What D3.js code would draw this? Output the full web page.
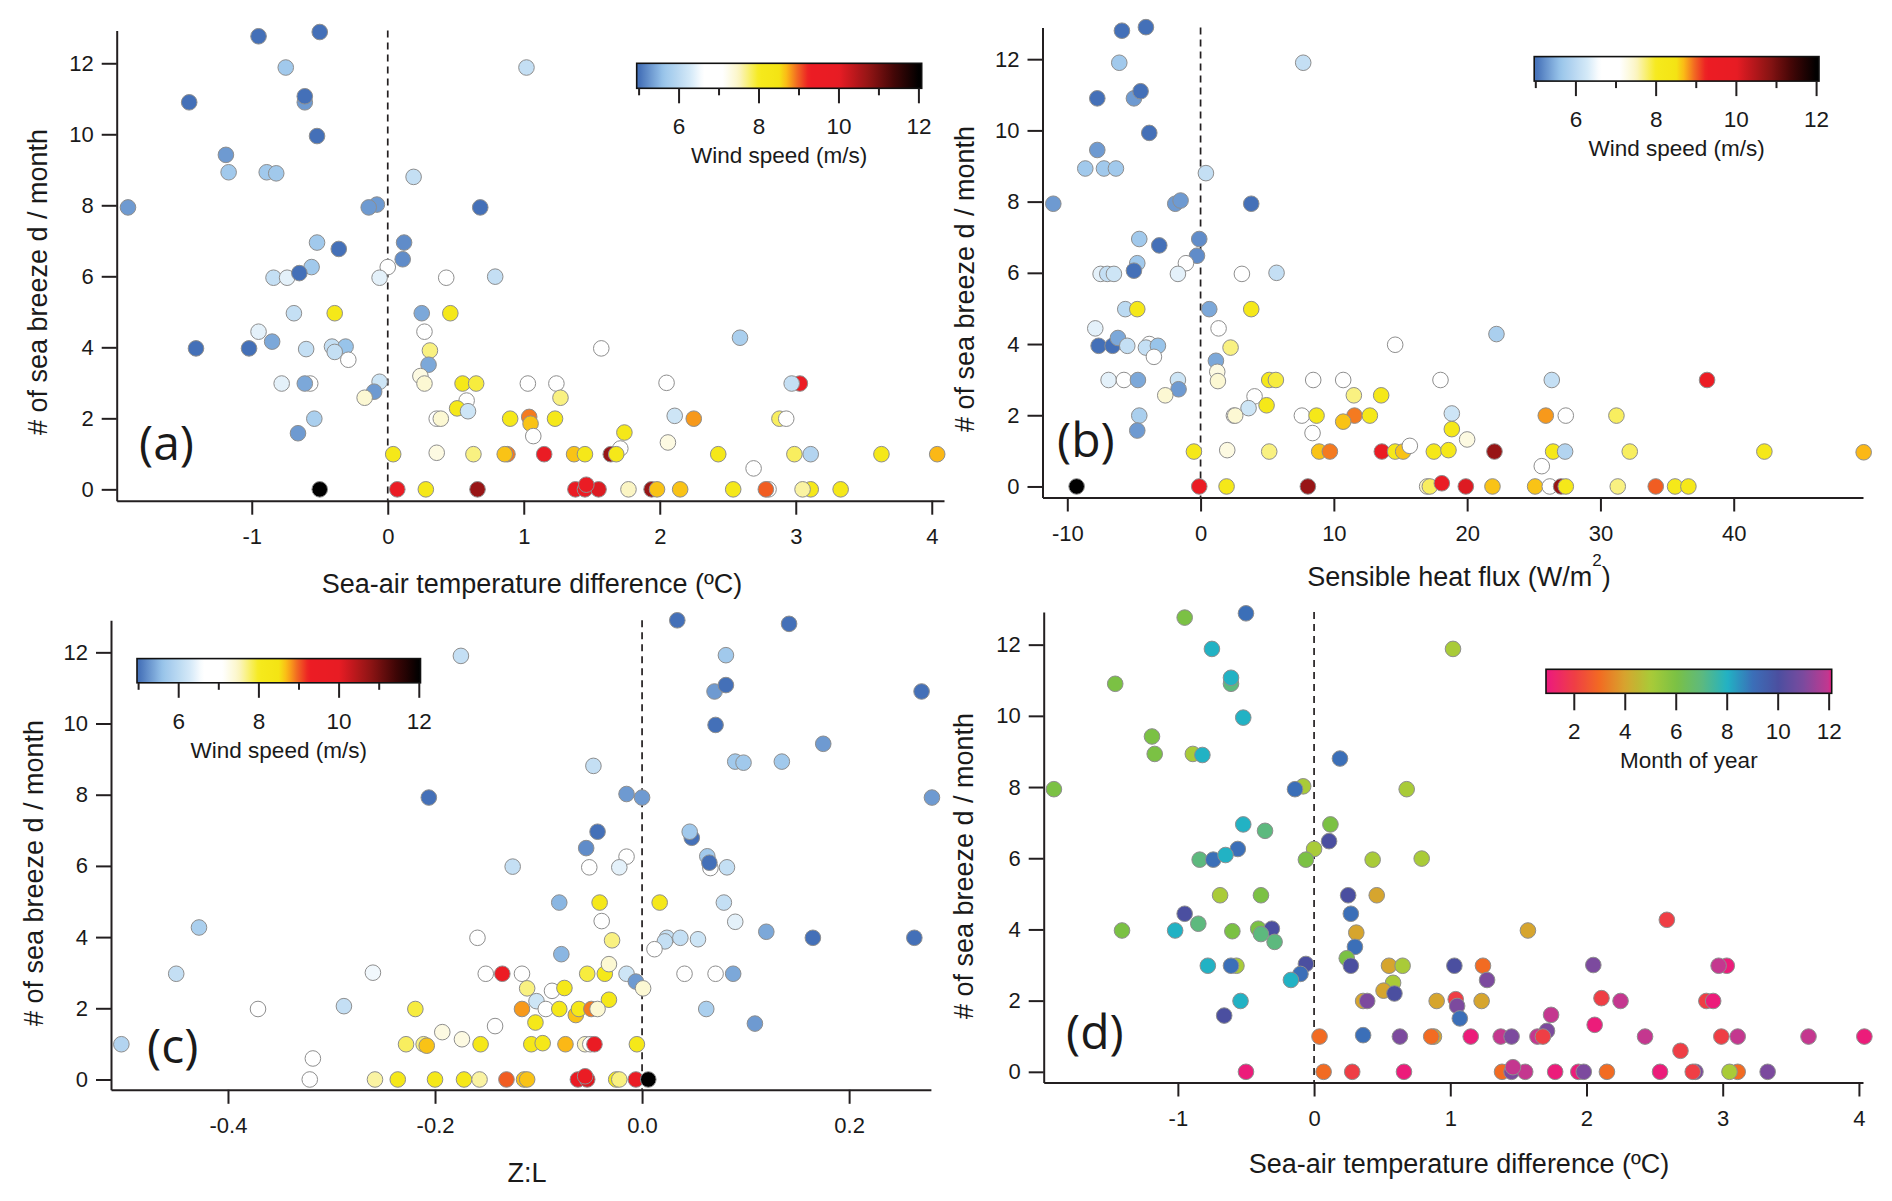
<!DOCTYPE html>
<html>
<head>
<meta charset="utf-8">
<title>Sea breeze days vs. surface conditions</title>
<script src="https://cdn.jsdelivr.net/npm/d3@7"></script>
<style>
  body { margin: 0; background: #fff; }
  svg text { font-family: "Liberation Sans", Arial, sans-serif; fill: #1a1a1a; }
</style>
</head>
<body>
<div id="chart"></div>
<script>
// ---------- data ----------
// panels (a) and (d): [sea-air temperature difference (ºC), sea breeze days / month, wind speed (m/s), month]
var tempPoints = [
  [-0.95,12.76,5.0,6],[-0.50,12.88,5.0,9],[-0.75,11.88,5.7,8],[1.02,11.88,6.1,5],[-1.46,10.90,5.0,6],
  [-0.61,10.90,5.3,7],[-0.61,11.07,5.0,8],[-0.52,9.95,5.0,8],[-1.19,9.42,5.3,6],[-1.17,8.93,5.7,6],
  [-0.89,8.93,5.7,5],[-0.82,8.90,5.7,8],[0.19,8.80,6.1,9],[-1.91,7.94,5.3,6],[-0.08,8.02,5.3,5],
  [-0.14,7.94,5.3,9],[0.68,7.94,5.0,5],[-0.52,6.95,5.7,8],[-0.36,6.77,5.0,7],[0.12,6.95,5.2,6],
  [0.11,6.48,5.2,10],[-0.84,5.96,6.1,7],[-0.74,5.96,6.4,9],[-0.56,6.26,5.7,9],[-0.65,6.09,5.0,8],
  [0.00,6.26,6.9,5],[-0.06,5.96,6.4,6],[0.43,5.96,6.9,5],[0.79,5.99,6.1,5],[-0.69,4.96,6.1,5],
  [-0.39,4.96,8.2,6],[0.25,4.96,5.4,10],[0.46,4.96,8.2,4],[-0.95,4.44,6.4,10],[0.27,4.44,6.9,9],
  [2.59,4.27,5.8,2],[-1.41,3.97,5.0,6],[-1.02,3.97,5.0,8],[-0.85,4.16,5.4,7],[-0.60,3.95,6.1,6],
  [-0.41,4.02,6.1,6],[-0.31,4.02,5.6,10],[-0.39,3.87,6.1,7],[-0.29,3.65,6.9,7],[0.31,3.91,7.7,4],
  [1.57,3.97,6.9,4],[0.30,3.51,5.4,9],[-0.78,2.98,6.4,8],[-0.57,2.98,6.9,5],[-0.61,2.98,5.4,9],
  [-0.06,3.03,6.2,10],[-0.10,2.75,5.3,9],[-0.17,2.58,7.4,8],[0.24,3.19,7.3,6],[0.27,2.98,7.4,10],
  [0.55,2.98,8.2,4],[0.65,2.98,7.9,5],[1.03,2.98,6.9,10],[1.24,2.98,6.9,3],[1.27,2.58,7.7,11],
  [0.58,2.50,6.7,5],[0.51,2.28,8.2,4],[0.59,2.20,6.2,10],[2.05,3.00,6.7,11],[3.03,2.98,9.3,1],
  [2.97,2.98,6.1,12],[-0.54,1.99,5.8,8],[-0.66,1.58,5.3,10],[0.36,1.99,6.9,4],[0.39,1.99,7.4,11],
  [0.90,1.99,8.2,4],[1.04,2.04,8.9,2],[1.05,1.85,8.65,11],[1.07,1.50,6.6,9],[1.23,1.99,8.2,4],
  [2.11,2.07,6.2,2],[2.25,1.99,8.8,12],[1.74,1.60,8.2,12],[1.71,1.15,6.9,11],[2.06,1.32,7.3,1],
  [2.88,1.99,7.8,2],[2.93,1.99,6.7,1],[0.04,0.99,8.2,3],[0.36,1.03,7.3,9],[0.63,0.99,7.7,11],
  [0.88,0.99,8.9,4],[0.86,0.99,8.65,3],[1.15,0.99,9.6,1],[1.37,0.99,8.65,12],[1.45,0.99,8.2,11],
  [1.64,0.99,10.7,12],[1.68,0.99,8.2,2],[2.43,0.99,8.2,12],[2.69,0.59,6.9,2],[2.99,0.99,7.8,2],
  [3.11,0.99,5.9,12],[3.63,0.99,8.2,12],[4.04,0.99,8.7,1],[-0.50,0.00,12.0,1],[0.07,0.00,9.6,3],
  [0.28,0.00,8.2,2],[0.66,0.00,10.7,1],[1.38,0.00,9.6,3],[1.45,0.00,9.6,11],[1.55,0.00,10.1,12],
  [1.46,0.13,9.6,12],[1.77,0.00,7.5,1],[1.94,0.00,10.7,1],[1.98,0.00,8.65,11],[2.15,0.00,8.65,3],
  [2.54,0.00,8.2,1],[2.80,0.00,6.9,11],[2.78,0.00,9.0,2],[3.11,0.00,8.2,3],[3.05,0.00,7.6,5],
  [3.33,0.00,8.2,11]
];

// panel (b): [sensible heat flux (W/m2), sea breeze days / month, wind speed (m/s)]
var fluxPoints = [
  [-5.9,12.8,5.0],[-4.1,12.9,5.0],[-6.1,11.9,5.7],[7.7,11.9,6.1],[-7.75,10.9,5.0],[-5.0,10.9,5.3],
  [-4.5,11.1,5.0],[-3.85,9.93,5.0],[-7.75,9.45,5.3],[-8.65,8.93,5.7],[-7.25,8.93,5.7],[-6.35,8.93,5.7],
  [0.4,8.8,6.1],[-11.05,7.94,5.3],[-1.9,7.94,5.3],[-1.5,8.03,5.3],[3.8,7.94,5.0],[-4.6,6.95,5.7],
  [-3.1,6.77,5.0],[-0.1,6.95,5.2],[-0.27,6.48,5.2],[-7.5,5.97,6.4],[-7.0,5.97,6.1],[-6.5,5.97,6.2],
  [-4.75,6.27,5.7],[-5.0,6.06,5.0],[-1.1,6.27,6.9],[-1.7,5.97,6.4],[3.1,5.97,6.9],[5.7,6.0,6.1],
  [-5.65,4.98,6.0],[-4.75,4.98,8.2],[0.65,4.98,5.4],[3.8,4.98,8.2],[-7.9,4.44,6.4],[1.35,4.44,6.9],
  [22.2,4.28,5.8],[-7.65,3.95,5.0],[-6.6,3.95,5.0],[-6.2,4.17,5.4],[-5.5,3.95,6.1],[-3.85,4.0,6.9],
  [-4.1,3.9,6.1],[-3.2,3.95,5.6],[-3.5,3.64,6.9],[2.25,3.9,7.7],[14.6,3.98,6.9],[1.15,3.53,5.4],
  [-6.9,2.99,6.4],[-5.75,2.99,6.9],[-4.7,2.99,5.4],[-1.7,2.99,6.2],[-1.65,2.73,5.3],[-2.65,2.56,7.4],
  [1.25,3.22,7.3],[1.3,2.96,7.4],[5.15,2.99,8.2],[5.65,2.99,7.9],[8.45,2.99,6.9],[10.7,2.99,6.9],
  [11.5,2.56,7.7],[13.55,2.56,8.2],[4.05,2.53,6.7],[3.6,2.2,6.2],[4.95,2.28,8.2],[18.0,2.99,6.7],
  [26.35,2.99,6.1],[38.0,2.99,9.3],[-4.6,1.99,5.8],[-4.75,1.57,5.3],[2.5,1.99,6.9],[2.6,1.99,7.4],
  [7.6,1.99,6.9],[8.7,1.99,8.2],[8.4,1.5,6.6],[11.55,1.99,8.9],[10.7,1.82,8.65],[12.7,1.99,8.2],
  [18.85,2.05,6.2],[18.85,1.61,8.2],[20.0,1.32,7.3],[25.9,1.99,8.8],[27.4,1.99,6.7],[31.2,1.99,7.8],
  [-0.5,0.98,8.2],[2.0,1.02,7.3],[5.15,0.98,7.7],[8.9,0.98,8.65],[9.7,0.98,8.9],[13.6,0.98,9.6],
  [14.6,0.98,8.2],[15.2,0.98,8.65],[15.7,1.14,6.9],[17.5,0.98,8.2],[18.6,1.02,8.2],[22.05,0.98,10.7],
  [25.6,0.57,6.9],[26.45,0.98,8.2],[27.35,0.98,5.9],[32.2,0.98,7.8],[42.3,0.98,8.2],[49.75,0.96,8.7],
  [-9.3,0,12.0],[-0.1,0,9.6],[1.95,0,8.2],[8.05,0,10.7],[17.0,0,7.5],[17.2,0,7.8],[18.1,0.09,9.6],
  [19.9,0,10.1],[21.9,0,8.65],[25.1,0,8.65],[26.2,0,6.9],[27.05,0,10.7],[27.4,0,8.2],[31.3,0,7.7],
  [34.15,0,9.0],[35.6,0,8.2],[36.6,0,8.2]
];

// panel (c): [Z:L, sea breeze days / month, wind speed (m/s)]
var zlPoints = [
  [0.034,12.9,5.0],[0.142,12.8,5.0],[-0.175,11.9,6.1],[0.081,11.92,5.7],[0.07,10.9,5.3],[0.081,11.08,5.0],
  [0.27,10.9,5.0],[0.071,9.96,5.0],[0.175,9.43,5.3],[0.09,8.93,5.7],[0.098,8.9,5.7],[0.135,8.93,5.7],
  [-0.047,8.81,6.1],[-0.206,7.92,5.0],[-0.015,8.02,5.3],[0.0,7.92,5.3],[0.28,7.92,5.3],[-0.043,6.96,5.0],
  [0.048,6.79,5.0],[0.046,6.96,5.7],[-0.054,6.5,5.2],[-0.125,5.98,6.1],[-0.051,5.96,6.9],[-0.015,6.26,6.9],
  [-0.022,5.96,6.4],[0.063,6.27,5.7],[0.066,5.94,6.9],[0.065,6.09,5.0],[0.082,5.96,6.1],[-0.08,4.97,5.5],
  [-0.041,4.97,8.2],[0.017,4.97,8.2],[0.079,4.97,6.1],[-0.039,4.45,6.9],[0.09,4.43,6.4],[-0.428,4.27,5.8],
  [0.12,4.15,5.4],[0.165,3.98,5.0],[0.263,3.98,5.0],[-0.159,3.98,6.9],[-0.029,3.91,7.7],[0.024,3.98,6.1],
  [0.022,3.88,6.1],[0.037,3.98,6.1],[0.054,3.94,6.2],[0.012,3.66,6.9],[-0.078,3.52,5.5],[-0.45,2.97,6.1],
  [-0.26,3.0,6.5],[-0.151,2.97,6.9],[-0.135,2.97,9.3],[-0.116,2.97,6.9],[-0.053,2.97,7.9],[-0.036,2.97,8.2],
  [-0.032,3.24,7.4],[-0.015,2.97,6.2],[-0.006,2.75,5.3],[0.001,2.56,7.4],[0.041,2.97,6.9],[0.071,2.97,6.9],
  [0.088,2.97,5.4],[-0.111,2.56,7.7],[-0.087,2.49,6.7],[-0.075,2.57,8.2],[-0.102,2.2,6.2],[-0.032,2.24,8.2],
  [-0.371,1.98,6.7],[-0.288,2.06,6.1],[-0.219,1.98,7.9],[-0.116,1.98,8.8],[-0.093,1.98,6.9],[-0.08,1.98,8.2],
  [-0.064,1.81,8.65],[-0.061,1.98,8.2],[-0.049,1.98,8.9],[-0.043,1.98,7.4],[0.062,1.98,5.8],[-0.103,1.6,8.2],
  [0.109,1.57,5.3],[-0.193,1.33,7.3],[-0.142,1.5,6.6],[-0.174,1.13,7.3],[-0.503,0.99,5.9],[-0.228,0.99,7.8],
  [-0.211,0.99,7.7],[-0.208,0.95,8.65],[-0.156,0.99,8.2],[-0.107,0.99,8.2],[-0.096,1.02,8.2],[-0.074,0.99,8.7],
  [-0.055,0.99,7.5],[-0.05,0.99,6.9],[-0.046,0.99,9.6],[-0.005,0.99,8.2],[-0.318,0.59,6.9],[-0.321,0,6.9],
  [-0.258,0,7.6],[-0.236,0,8.2],[-0.2,0,8.2],[-0.172,0,8.2],[-0.157,0,7.6],[-0.131,0,9.0],[-0.114,0,8.65],
  [-0.111,0,8.65],[-0.062,0,9.6],[-0.053,0,10.1],[-0.055,0.09,9.6],[-0.025,0,8.2],[-0.022,0,7.7],
  [-0.006,0,9.6],[0.006,0,12.0]
];

// tick values
var yTicks = [0, 2, 4, 6, 8, 10, 12];
var tempTicks = [-1, 0, 1, 2, 3, 4];
var fluxTicks = [-10, 0, 10, 20, 30, 40];
var zlTicks = [-0.4, -0.2, 0.0, 0.2];
var windMajor = [6, 8, 10, 12];
var windMinor = [5, 7, 9, 11];
var monthTicks = [2, 4, 6, 8, 10, 12];

// colour ramps
var windStops = [5.0, 5.6, 6.3, 6.6, 7.1, 7.5, 8.0, 8.5, 8.7, 8.95, 9.25, 10.0, 10.8, 11.4, 12.0];
var windColors = ["#4470b8","#98c4ea","#d6eaf8","#ffffff","#ffffff","#fbf5c4","#f6ea1c","#f4e414",
                  "#fbb816","#f26a22","#ec1c24","#e81c24","#8c1414","#400606","#000000"];
var monthStops = [1, 2, 3, 4, 5, 6, 7, 8, 9, 10, 11, 12, 12.1];
var monthColors = ["#ec1c7a","#ef3e45","#f26b22","#d6a52e","#a9cb38","#7bc144","#5db97e",
                   "#22b2c4","#3b6fb8","#4b4fa0","#7c4a9e","#c4378f","#e81e7e"];

// ---------- set up ----------
var W = 1892, H = 1201;
var svg = d3.select("#chart").append("svg").attr("width", W).attr("height", H);
var defs = svg.append("defs");

var windColor = d3.scaleLinear().domain(windStops).range(windColors).clamp(true);
var monthColor = d3.scaleLinear().domain(monthStops).range(monthColors).clamp(true);

var intFmt = function(d) { return String(d); };
var zlFmt = function(d) { return d3.format(".1f")(d).replace("\u2212", "-"); };

var yTitle = "# of sea breeze d / month";
var tempTitle = "Sea-air temperature difference (\u00baC)";

var panels = [
  { id: "a", points: tempPoints, color: function(d) { return windColor(d[2]); },
    xDomain: [-1.993, 4.09], xRange: [116.7, 944], yDomain: [-0.32, 12.92], yRange: [500.7, 30.6],
    xTicks: tempTicks, fmt: intFmt, xTitle: tempTitle, xTitlePos: [532, 593], yTitlePos: [47, 282],
    label: "(a)", labelPos: [139, 460],
    bar: { id: "windA", x0: 636.7, x1: 921.7, y0: 63.3, y1: 88.3, domain: [4.94, 12.07] } },
  { id: "b", points: fluxPoints, color: function(d) { return windColor(d[2]); },
    xDomain: [-11.86, 49.7], xRange: [1042.5, 1863], yDomain: [-0.31, 12.89], yRange: [497.5, 27.5],
    xTicks: fluxTicks, fmt: intFmt, xTitle: null, xTitlePos: [1459, 586], yTitlePos: [974, 279],
    label: "(b)", labelPos: [1057, 457],
    bar: { id: "windB", x0: 1534.2, x1: 1819, y0: 56.6, y1: 81.1, domain: [4.96, 12.06] } },
  { id: "c", points: zlPoints, color: function(d) { return windColor(d[2]); },
    xDomain: [-0.513, 0.279], xRange: [111, 930.9], yDomain: [-0.29, 12.9], yRange: [1089.8, 620.3],
    xTicks: zlTicks, fmt: zlFmt, xTitle: "Z:L", xTitlePos: [527, 1181.5], yTitlePos: [43, 873],
    label: "(c)", labelPos: [147, 1063],
    bar: { id: "windC", x0: 137, x1: 420.5, y0: 658.6, y1: 682.8, domain: [4.96, 12.03] } },
  { id: "d", points: tempPoints, color: function(d) { return monthColor(d[3]); },
    xDomain: [-1.985, 4.03], xRange: [1043.7, 1863], yDomain: [-0.30, 12.92], yRange: [1082.5, 611.9],
    xTicks: tempTicks, fmt: intFmt, xTitle: tempTitle, xTitlePos: [1459, 1173], yTitlePos: [973, 866],
    label: "(d)", labelPos: [1066, 1049],
    bar: { id: "month", x0: 1546, x1: 1831.7, y0: 669.3, y1: 693.3, domain: [0.89, 12.1], month: true } }
];

function styleAxis(sel) {
  sel.attr("font-size", 22).attr("font-family", "Liberation Sans, Arial, sans-serif");
  sel.selectAll("path, line").attr("stroke", "#231f20").attr("stroke-width", 2);
  sel.selectAll("text").attr("fill", "#1a1a1a");
}

function drawColorbar(b) {
  var s = d3.scaleLinear().domain(b.domain).range([b.x0, b.x1]);
  var cscale = b.month ? monthColor : windColor;
  var grad = defs.append("linearGradient").attr("id", "grad-" + b.id)
    .attr("x1", "0%").attr("x2", "100%").attr("y1", "0%").attr("y2", "0%");
  var n = 80;
  for (var i = 0; i <= n; i++) {
    var v = b.domain[0] + (b.domain[1] - b.domain[0]) * i / n;
    grad.append("stop").attr("offset", (100 * i / n) + "%").attr("stop-color", cscale(v));
  }
  var g = svg.append("g");
  g.append("rect")
    .attr("x", b.x0).attr("y", b.y0)
    .attr("width", b.x1 - b.x0).attr("height", b.y1 - b.y0)
    .attr("fill", "url(#grad-" + b.id + ")")
    .attr("stroke", "#111").attr("stroke-width", 1.6);

  var major = b.month ? monthTicks : windMajor;
  var minor = b.month ? [] : windMinor;
  var majLen = b.month ? 17 : 15;
  g.selectAll("line.maj").data(major).join("line")
    .attr("x1", function(d) { return s(d); }).attr("x2", function(d) { return s(d); })
    .attr("y1", b.y1).attr("y2", b.y1 + majLen)
    .attr("stroke", "#231f20").attr("stroke-width", 2);
  g.selectAll("line.min").data(minor).join("line")
    .attr("x1", function(d) { return s(d); }).attr("x2", function(d) { return s(d); })
    .attr("y1", b.y1).attr("y2", b.y1 + 7)
    .attr("stroke", "#231f20").attr("stroke-width", 2);
  g.selectAll("text.tl").data(major).join("text")
    .attr("x", function(d) { return s(d); }).attr("y", b.y1 + 46)
    .attr("text-anchor", "middle").attr("font-size", 22.5)
    .text(function(d) { return d; });
  g.append("text")
    .attr("x", (b.x0 + b.x1) / 2).attr("y", b.y1 + 75)
    .attr("text-anchor", "middle").attr("font-size", 22.5)
    .text(b.month ? "Month of year" : "Wind speed (m/s)");
}

function drawPanel(p) {
  var x = d3.scaleLinear().domain(p.xDomain).range(p.xRange);
  var y = d3.scaleLinear().domain(p.yDomain).range(p.yRange);
  var g = svg.append("g").attr("class", "panel-" + p.id);

  // dashed line at zero
  g.append("line")
    .attr("x1", x(0)).attr("x2", x(0))
    .attr("y1", p.yRange[1]).attr("y2", p.yRange[0])
    .attr("stroke", "#231f20").attr("stroke-width", 1.7)
    .attr("stroke-dasharray", "7,5");

  // axes
  g.append("g")
    .attr("transform", "translate(0," + p.yRange[0] + ")")
    .call(d3.axisBottom(x).tickValues(p.xTicks).tickFormat(p.fmt)
      .tickSizeInner(14).tickSizeOuter(0).tickPadding(14))
    .call(styleAxis);
  g.append("g")
    .attr("transform", "translate(" + p.xRange[0] + ",0)")
    .call(d3.axisLeft(y).tickValues(yTicks).tickFormat(intFmt)
      .tickSizeInner(15).tickSizeOuter(0).tickPadding(8))
    .call(styleAxis);

  // points
  g.selectAll("circle.pt").data(p.points).join("circle")
    .attr("class", "pt")
    .attr("cx", function(d) { return x(d[0]); })
    .attr("cy", function(d) { return y(d[1]); })
    .attr("r", 7.8)
    .attr("fill", p.color)
    .attr("stroke", "#8e8e8e").attr("stroke-width", 1);

  // axis titles
  var xt = g.append("text")
    .attr("x", p.xTitlePos[0]).attr("y", p.xTitlePos[1])
    .attr("text-anchor", "middle").attr("font-size", 27);
  if (p.xTitle) {
    xt.text(p.xTitle);
  } else {
    xt.append("tspan").text("Sensible heat flux (W/m");
    xt.append("tspan").attr("font-size", 17).attr("dy", -20).text("2");
    xt.append("tspan").attr("dy", 20).text(")");
  }
  g.append("text")
    .attr("transform", "translate(" + p.yTitlePos[0] + "," + p.yTitlePos[1] + ") rotate(-90)")
    .attr("text-anchor", "middle").attr("font-size", 27)
    .text(yTitle);

  // panel letter
  g.append("text")
    .attr("x", p.labelPos[0]).attr("y", p.labelPos[1])
    .attr("font-size", 48)
    .style("font-family", "'Open Sans', 'Noto Sans', sans-serif")
    .text(p.label);

  drawColorbar(p.bar);
}

panels.forEach(drawPanel);
</script>
</body>
</html>
